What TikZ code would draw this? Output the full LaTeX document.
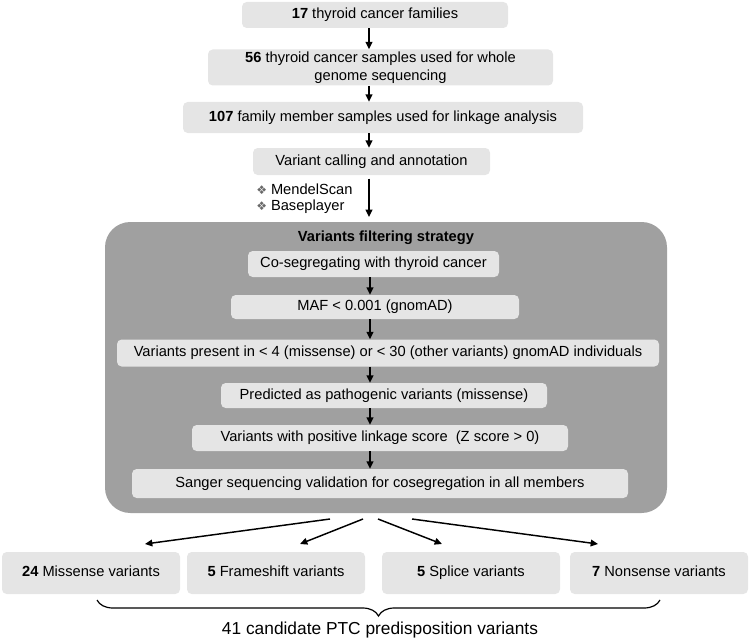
\documentclass[tikz,border=0pt]{standalone}
\usepackage{fontspec}
\setmainfont{Liberation Sans}
\newfontfamily\symfont{DejaVu Sans}
\usetikzlibrary{arrows.meta,decorations.pathreplacing}
\definecolor{lightbox}{RGB}{229,229,229}
\definecolor{bigbox}{RGB}{160,160,160}
\definecolor{bulletgray}{RGB}{105,105,105}
\begin{document}
\begin{tikzpicture}[x=0.75pt,y=-0.75pt,
  lbox/.style={fill=lightbox, rounded corners=3.5pt, inner sep=0pt, align=center,
    font=\fontsize{11}{13.5}\selectfont},
  oneline/.style={text height=8pt, text depth=2.4pt},
  bigstyle/.style={fill=bigbox, rounded corners=19pt, inner sep=0pt},
  arr/.style={-{Triangle[length=5.5pt,width=5pt]}, line width=1.1pt},
  txt/.style={inner sep=0pt, font=\fontsize{11}{13.5}\selectfont},
]
\useasboundingbox (0,0) rectangle (750,642);

% top chain
\node[lbox, oneline, minimum width={266*0.75pt}, minimum height={26*0.75pt}] (b1) at (375,15) {\textbf{17} thyroid cancer families};
\node[lbox, minimum width={345*0.75pt}, minimum height={36*0.75pt}] (b2) at (380.5,67.5) {\textbf{56} thyroid cancer samples used for whole\\genome sequencing};
\node[lbox, oneline, minimum width={400*0.75pt}, minimum height={31*0.75pt}] (b3) at (383,117.5) {\textbf{107} family member samples used for linkage analysis};
\node[lbox, oneline, minimum width={237*0.75pt}, minimum height={27*0.75pt}] (b4) at (371.5,161.5) {Variant calling and annotation};

\node[txt, anchor=west] (m1) at (256,189) {{\symfont\color{bulletgray}\fontsize{9}{9}\selectfont ❖}\hspace{3pt}MendelScan};
\node[txt, anchor=west] (m2) at (256,207) {{\symfont\color{bulletgray}\fontsize{9}{9}\selectfont ❖}\hspace{3pt}Baseplayer};

% big filtering box
\node[bigstyle, minimum width={562*0.75pt}, minimum height={291*0.75pt}] (big) at (386,367.5) {};
\node[txt, font=\fontsize{11}{13.5}\selectfont\bfseries] (title) at (386,238) {Variants filtering strategy};

\node[lbox, oneline, minimum width={251*0.75pt}, minimum height={26*0.75pt}] (c1) at (373.5,264) {Co-segregating with thyroid cancer};
\node[lbox, oneline, minimum width={288*0.75pt}, minimum height={24*0.75pt}] (c2) at (375,307) {MAF {\textless} 0.001 (gnomAD)};
\node[lbox, oneline, minimum width={542*0.75pt}, minimum height={27*0.75pt}] (c3) at (388,353) {Variants present in {\textless} 4 (missense) or {\textless} 30 (other variants) gnomAD individuals};
\node[lbox, oneline, minimum width={326*0.75pt}, minimum height={25*0.75pt}] (c4) at (384,395.5) {Predicted as pathogenic variants (missense)};
\node[lbox, oneline, minimum width={376*0.75pt}, minimum height={26*0.75pt}] (c5) at (380,438) {Variants with positive linkage score\ \ (Z score {\textgreater} 0)};
\node[lbox, oneline, minimum width={496*0.75pt}, minimum height={29*0.75pt}] (c6) at (380,483.5) {Sanger sequencing validation for cosegregation in all members};

% bottom boxes
\node[lbox, oneline, minimum width={178*0.75pt}, minimum height={42*0.75pt}] (d1) at (91,573) {\textbf{24} Missense variants};
\node[lbox, oneline, minimum width={178*0.75pt}, minimum height={42*0.75pt}] (d2) at (276,573) {\textbf{5} Frameshift variants};
\node[lbox, oneline, minimum width={178*0.75pt}, minimum height={42*0.75pt}] (d3) at (471,573) {\textbf{5} Splice variants};
\node[lbox, oneline, minimum width={178*0.75pt}, minimum height={42*0.75pt}] (d4) at (659,573) {\textbf{7} Nonsense variants};

\node[txt, font=\fontsize{13}{15}\selectfont] (sum) at (380,630) {41 candidate PTC predisposition variants};

% arrows
\coordinate (ax) at (369,0);
\draw[arr] (b1.south -| ax) -- (b2.north -| ax);
\draw[arr] (b2.south -| ax) -- (b3.north -| ax);
\draw[arr] (b3.south -| ax) -- (b4.north -| ax);
\draw[arr, shorten <=2.5pt, shorten >=3.5pt] (b4.south -| ax) -- (big.north -| ax);
\coordinate (ix) at (370,0);
\draw[arr] (c1.south -| ix) -- (c2.north -| ix);
\draw[arr] (c2.south -| ix) -- (c3.north -| ix);
\draw[arr] (c3.south -| ix) -- (c4.north -| ix);
\draw[arr] (c4.south -| ix) -- (c5.north -| ix);
\draw[arr] (c5.south -| ix) -- (c6.north -| ix);

% fan
\coordinate (f1s) at (330,519); \coordinate (f1e) at (145,544);
\coordinate (f2s) at (363,519); \coordinate (f2e) at (300,544);
\coordinate (f3s) at (378,519); \coordinate (f3e) at (442,544);
\coordinate (f4s) at (412,519); \coordinate (f4e) at (598,544);
\draw[arr] (f1s) -- (f1e);
\draw[arr] (f2s) -- (f2e);
\draw[arr] (f3s) -- (f3e);
\draw[arr] (f4s) -- (f4e);

% brace
\coordinate (brl) at (97,600);
\coordinate (brr) at (660,600);
\draw[decorate, decoration={brace, mirror, amplitude=12pt}, line width=0.9pt] (brl) -- (brr);
\end{tikzpicture}
\end{document}
